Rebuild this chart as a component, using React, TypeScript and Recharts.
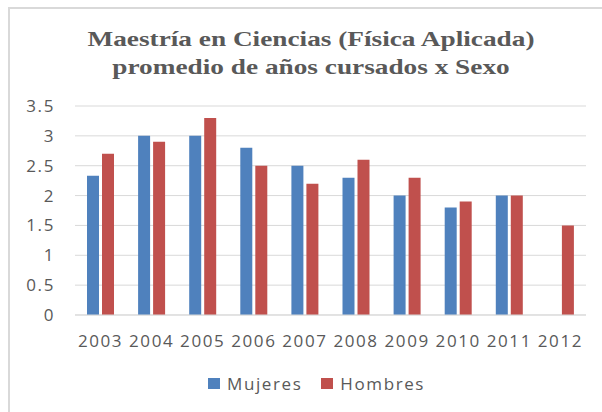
import React from "react";
import { BarChart, Bar, XAxis, YAxis, CartesianGrid } from "recharts";

const years = ["2003", "2004", "2005", "2006", "2007", "2008", "2009", "2010", "2011", "2012"];
const mujeres: (number | null)[] = [2.33, 3.0, 3.0, 2.8, 2.5, 2.3, 2.0, 1.8, 2.0, null];
const hombres: (number | null)[] = [2.7, 2.9, 3.3, 2.5, 2.2, 2.6, 2.3, 1.9, 2.0, 1.5];
const yTicks = [0, 0.5, 1, 1.5, 2, 2.5, 3, 3.5];
const seriesNames = ["Mujeres", "Hombres"];
const seriesColors = ["#4F81BD", "#C0504D"];
const titleLines = ["Maestría en Ciencias (Física Aplicada)", "promedio de años cursados x Sexo"];

const data = years.map((y, i) => ({ year: y, Mujeres: mujeres[i], Hombres: hombres[i] }));

const TXT = "#595959";
const FONT = "'Open Sans', sans-serif";

export default function App() {
  return (
    <div style={{ position: "fixed", left: 0, top: 0, width: 602, height: 412, background: "#fff", overflow: "hidden" }}>
      <div
        style={{
          position: "absolute",
          left: 8,
          top: 7,
          width: 700,
          height: 500,
          borderTop: "2px solid #d9d9d9",
          borderLeft: "2px solid #d9d9d9",
          boxSizing: "border-box",
        }}
      />
      <div
        style={{
          position: "absolute",
          left: 0,
          top: 25,
          width: 622,
          textAlign: "center",
          fontFamily: "'Liberation Serif', 'Times New Roman', serif",
          fontWeight: "bold",
          fontSize: 22,
          lineHeight: "28px",
          color: TXT,
          transform: "scaleX(1.24)",
          transformOrigin: "311px 0",
        }}
      >
        <div>{titleLines[0]}</div>
        <div>{titleLines[1]}</div>
      </div>
      <div style={{ position: "absolute", left: 0, top: 0 }}>
        <BarChart
          width={602}
          height={412}
          data={data}
          margin={{ top: 106, right: 16, left: 0, bottom: 67 }}
          barSize={12}
          barGap={3}
        >
          <CartesianGrid vertical={false} stroke="#d9d9d9" strokeWidth={1} />
          <XAxis
            dataKey="year"
            height={30}
            tickLine={false}
            axisLine={{ stroke: "#d9d9d9" }}
            tickSize={6}
            tickMargin={14}
            interval={0}
            tick={{ fill: TXT, fontSize: 17, fontFamily: FONT, letterSpacing: 1.6 }}
          />
          <YAxis
            width={75}
            domain={[0, 3.5]}
            ticks={yTicks}
            tickLine={false}
            axisLine={false}
            tickSize={6}
            tickMargin={14}
            tick={{ fill: TXT, fontSize: 17, fontFamily: FONT, letterSpacing: 1.6 }}
          />
          <Bar dataKey="Mujeres" fill={seriesColors[0]} isAnimationActive={false} />
          <Bar dataKey="Hombres" fill={seriesColors[1]} isAnimationActive={false} />
        </BarChart>
      </div>
      <div
        style={{
          position: "absolute",
          left: 208,
          top: 372,
          display: "flex",
          alignItems: "center",
          fontFamily: FONT,
          fontSize: 17,
          letterSpacing: 1.6,
          color: TXT,
          whiteSpace: "nowrap",
        }}
      >
        {seriesNames.map((n, i) => (
          <div key={n} style={{ display: "flex", alignItems: "center", marginRight: i === 0 ? 19 : 0 }}>
            <span style={{ display: "inline-block", width: 12, height: 11, background: seriesColors[i], marginRight: 7 }} />
            <span>{n}</span>
          </div>
        ))}
      </div>
    </div>
  );
}
